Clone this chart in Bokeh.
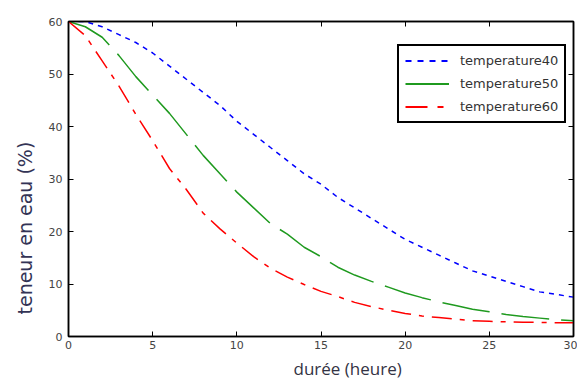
from bokeh.plotting import figure
from bokeh.models import LinearAxis, Legend, LegendItem, Title, Range1d, FixedTicker
from bokeh.embed import file_html
from bokeh.resources import INLINE

hours = list(range(0, 31))
temp40 = [60, 60, 59, 57.5, 56, 54, 51.5, 49, 46.5, 44, 41, 38.5, 36, 33.5, 31, 29, 26.5,
          24.5, 22.5, 20.5, 18.5, 17, 15.5, 14, 12.5, 11.5, 10.5, 9.5, 8.5, 8, 7.5]
temp50 = [60, 59, 57, 53.5, 49.5, 46, 42.5, 38.5, 34.5, 31, 27.5, 24.5, 21.5, 19.5, 17, 15.2,
          13.2, 11.7, 10.5, 9.4, 8.3, 7.4, 6.6, 5.9, 5.2, 4.7, 4.2, 3.8, 3.5, 3.2, 3.0]
temp60 = [60, 57.3, 52.5, 47.7, 42.3, 37.3, 32, 28, 23.5, 20.5, 17.8, 15.2, 13, 11.3, 9.9, 8.6,
          7.6, 6.5, 5.7, 5.0, 4.4, 3.9, 3.6, 3.3, 3.0, 2.9, 2.8, 2.7, 2.7, 2.6, 2.6]
series_names = ["temperature40", "temperature50", "temperature60"]
x_ticks = [0, 5, 10, 15, 20, 25, 30]
y_ticks = [0, 10, 20, 30, 40, 50, 60]

FONT = "DejaVu Sans"
LABEL_FONT = "Open Sans"

p = figure(width=577, height=387, output_backend="svg", toolbar_location=None,
           x_range=Range1d(0, 30), y_range=Range1d(0, 60),
           min_border_left=68, min_border_right=4, min_border_top=21, min_border_bottom=51)
p.grid.visible = False
p.outline_line_color = "black"
p.outline_line_width = 1.5
p.background_fill_color = "white"
p.border_fill_color = "white"

for ax in (p.xaxis[0], p.yaxis[0]):
    ax.axis_line_color = "black"
    ax.axis_line_width = 1.5
    ax.major_tick_in = 5
    ax.major_tick_out = 0
    ax.minor_tick_line_color = None
    ax.major_label_text_font = FONT
    ax.major_label_text_font_size = "11px"
    ax.major_label_text_color = "#444444"
p.xaxis[0].ticker = FixedTicker(ticks=x_ticks)
p.yaxis[0].ticker = FixedTicker(ticks=y_ticks)
p.xaxis[0].major_label_standoff = 4
p.yaxis[0].major_label_standoff = 6

top = LinearAxis(ticker=FixedTicker(ticks=x_ticks), major_label_text_color=None,
                 major_label_text_font_size="1px", major_label_standoff=0,
                 major_tick_in=5, major_tick_out=0, minor_tick_line_color=None,
                 axis_line_color="black", axis_line_width=1.5)
right = LinearAxis(ticker=FixedTicker(ticks=y_ticks), major_label_text_color=None,
                   major_label_text_font_size="1px", major_label_standoff=0,
                   major_tick_in=5, major_tick_out=0, minor_tick_line_color=None,
                   axis_line_color="black", axis_line_width=1.5)
p.add_layout(top, "above")
p.add_layout(right, "right")

r40 = p.line(hours, temp40, line_color="blue", line_width=1.5, line_dash="5 5")
r50 = p.line(hours, temp50, line_color="#1f9a1f", line_width=1.5, line_dash="48 12")
r60 = p.line(hours, temp60, line_color="red", line_width=1.5, line_dash="20 8 5 8")

# legend swatches (single point lines draw nothing in the plot)
e40 = p.line(hours[:1], temp40[:1], line_color="blue", line_width=2, line_dash="6 6")
e50 = p.line(hours[:1], temp50[:1], line_color="#1f9a1f", line_width=2)
e60 = p.line(hours[:1], temp60[:1], line_color="red", line_width=2, line_dash="22 10 6 10")

legend = Legend(items=[LegendItem(label=series_names[0], renderers=[e40]),
                       LegendItem(label=series_names[1], renderers=[e50]),
                       LegendItem(label=series_names[2], renderers=[e60])],
                location=(329, 213), glyph_width=44, glyph_height=17, label_height=17,
                label_standoff=11, padding=6, spacing=6, margin=0,
                border_line_color="black", border_line_width=2, border_line_alpha=1,
                label_text_font=FONT, label_text_font_size="13px", label_text_color="#333333",
                background_fill_alpha=1)
p.add_layout(legend, "center")

p.add_layout(Title(text="durée (heure)", align="left", offset=225, text_font=LABEL_FONT,
                   text_font_size="17px", text_font_style="normal", text_color="#333344",
                   standoff=6), "below")
p.add_layout(Title(text="teneur en eau (%)", align="left", offset=22, text_font=FONT,
                   text_font_size="19px", text_font_style="normal", text_color="#333355",
                   standoff=20), "left")

open("out.html", "w").write(file_html(p, INLINE))
